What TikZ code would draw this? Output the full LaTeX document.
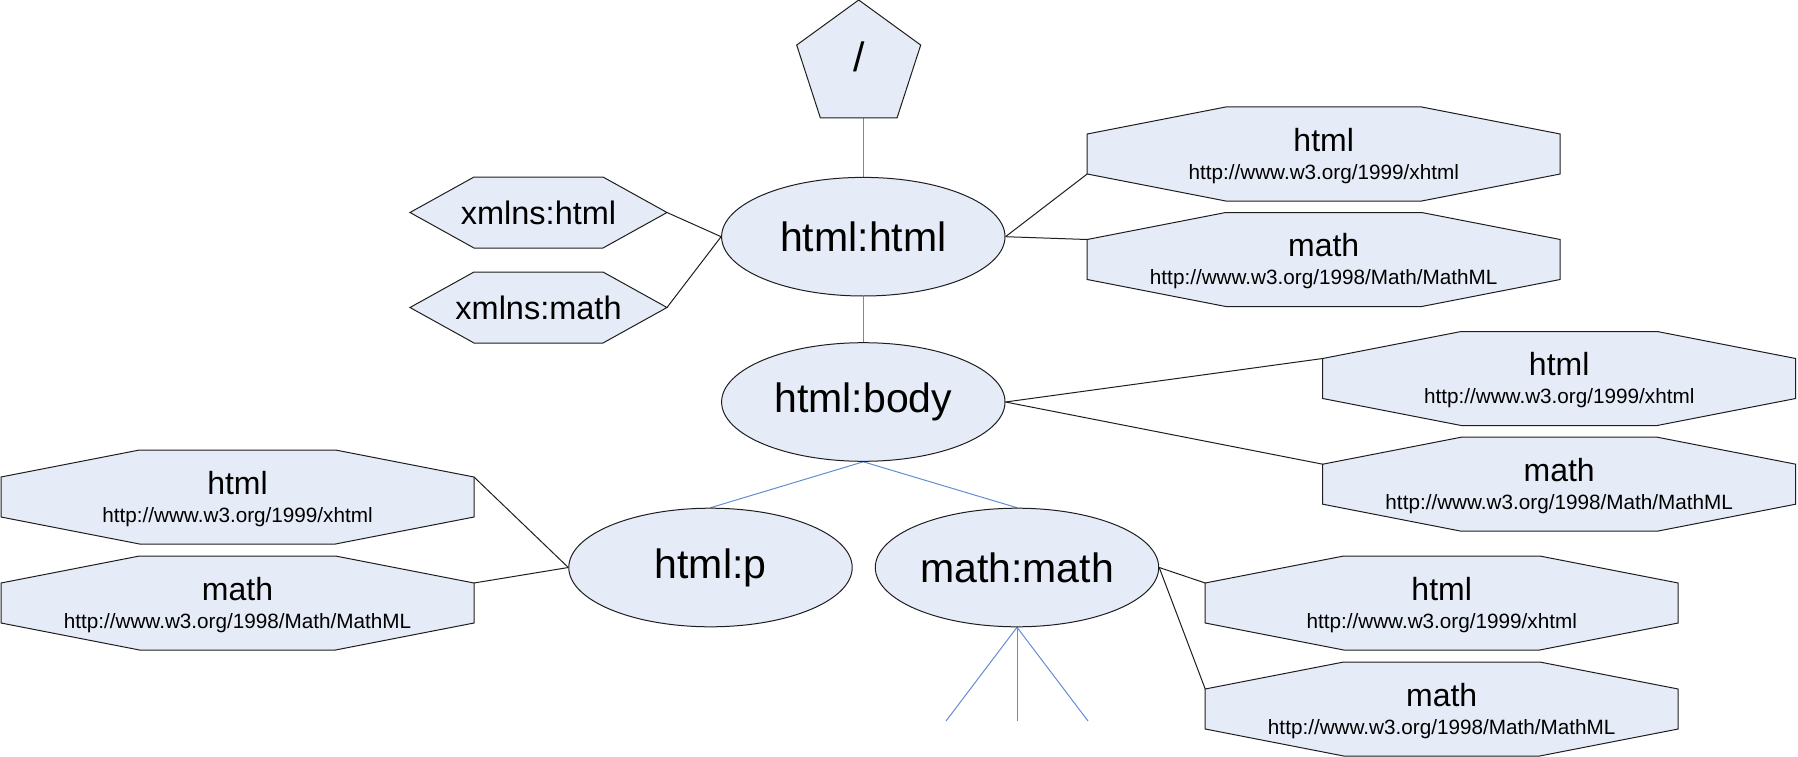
\documentclass[tikz,border=0pt]{standalone}
\usepackage{fontspec}
\setmainfont{Liberation Sans}
\usetikzlibrary{shapes.geometric,calc}
\definecolor{nodefill}{RGB}{230,236,247}
\definecolor{edgeline}{RGB}{30,30,30}
\definecolor{treeline}{RGB}{100,140,212}
\pgfdeclarelayer{background}
\pgfsetlayers{background,main}
\tikzset{
  base/.style={fill=nodefill, draw=edgeline, line width=1pt},
  elem/.style={base, ellipse, minimum width=283.4pt, minimum height=118.6pt, inner sep=0pt, font=\fontsize{41}{49}\selectfont},
  root/.style={base, regular polygon, regular polygon sides=5, minimum size=130.4pt, inner sep=0pt, font=\fontsize{41}{49}\selectfont},
  shapebox/.style={fill=nodefill, draw=edgeline, line width=1pt, line join=miter},
  attrtext/.style={inner sep=0pt, font=\fontsize{32.5}{39}\selectfont},
  nstext/.style={inner sep=0pt, align=center, font=\fontsize{32}{28}\selectfont},
  attrlink/.style={draw=edgeline, line width=1pt},
  treelink/.style={draw=treeline, line width=1pt},
}
\newcommand\nsbox[5]{%
  \filldraw[shapebox] (#2-236.5,#3-20) -- (#2-98,#3-47) -- (#2+98,#3-47) -- (#2+236.5,#3-20) -- (#2+236.5,#3+20) -- (#2+98,#3+47) -- (#2-98,#3+47) -- (#2-236.5,#3+20) -- cycle;
  \coordinate (#1-ul) at (#2-236.5,#3-20);
  \coordinate (#1-ll) at (#2-236.5,#3+20);
  \coordinate (#1-ur) at (#2+236.5,#3-20);
  \node[nstext] (#1) at (#2,#3+2) {#4\\{\fontsize{20.7}{28}\selectfont #5}};
}
\newcommand\attrbox[4]{%
  \filldraw[shapebox] (#2-128.5,#3) -- (#2-64.5,#3-35.5) -- (#2+64.5,#3-35.5) -- (#2+128.5,#3) -- (#2+64.5,#3+35.5) -- (#2-64.5,#3+35.5) -- cycle;
  \coordinate (#1-r) at (#2+128.5,#3);
  \node[attrtext] (#1) at (#2,#3) {#4};
}
\begin{document}
\begin{tikzpicture}[x=1pt,y=-1pt]
\useasboundingbox (0,0) rectangle (1798,757);

% element nodes
\node[root] (root) at (858.7,65.2) {\raisebox{17pt}{/}};
\node[elem] (hh) at (863.3,236.7) {html:html};
\node[elem] (hb) at (863.3,402) {html:body};
\node[elem] (hp) at (710.5,567.5) {html:p};
\node[elem] (mm) at (1017,567.5) {math:math};

% attribute nodes
\attrbox{xh}{538.5}{212.5}{xmlns:html}
\attrbox{xm}{538.5}{307.5}{xmlns:math}

% namespace nodes
\nsbox{hhA}{1323.7}{154}{html}{http://www.w3.org/1999/xhtml}
\nsbox{hhB}{1323.7}{259.5}{math}{http://www.w3.org/1998/Math/MathML}
\nsbox{hbA}{1559.2}{378.5}{html}{http://www.w3.org/1999/xhtml}
\nsbox{hbB}{1559.2}{484.2}{math}{http://www.w3.org/1998/Math/MathML}
\nsbox{hpA}{237.5}{497}{html}{http://www.w3.org/1999/xhtml}
\nsbox{hpB}{237.5}{603}{math}{http://www.w3.org/1998/Math/MathML}
\nsbox{mmA}{1441.7}{603}{html}{http://www.w3.org/1999/xhtml}
\nsbox{mmB}{1441.7}{709}{math}{http://www.w3.org/1998/Math/MathML}

\coordinate (leafa) at (946,721);
\coordinate (leafb) at (1017,721);
\coordinate (leafc) at (1088,721);

\begin{pgfonlayer}{background}
  % tree edges
  \draw[treelink] (hh.north |- root.south) -- (hh.north);
  \draw[treelink] (hh.south) -- (hb.north);
  \draw[treelink] (hb.south) -- (hp.north);
  \draw[treelink] (hb.south) -- (mm.north);
  \draw[treelink] (mm.south) -- (leafa);
  \draw[treelink] (mm.south) -- (leafb);
  \draw[treelink] (mm.south) -- (leafc);
  % attribute / namespace edges
  \draw[attrlink] (xh-r) -- (hh.west);
  \draw[attrlink] (xm-r) -- (hh.west);
  \draw[attrlink] (hh.east) -- (hhA-ll);
  \draw[attrlink] (hh.east) -- (hhB-ul);
  \draw[attrlink] (hb.east) -- (hbA-ul);
  \draw[attrlink] (hb.east) -- (hbB-ul);
  \draw[attrlink] (hpA-ur) -- (hp.west);
  \draw[attrlink] (hpB-ur) -- (hp.west);
  \draw[attrlink] (mm.east) -- (mmA-ul);
  \draw[attrlink] (mm.east) -- (mmB-ul);
\end{pgfonlayer}
\end{tikzpicture}
\end{document}
